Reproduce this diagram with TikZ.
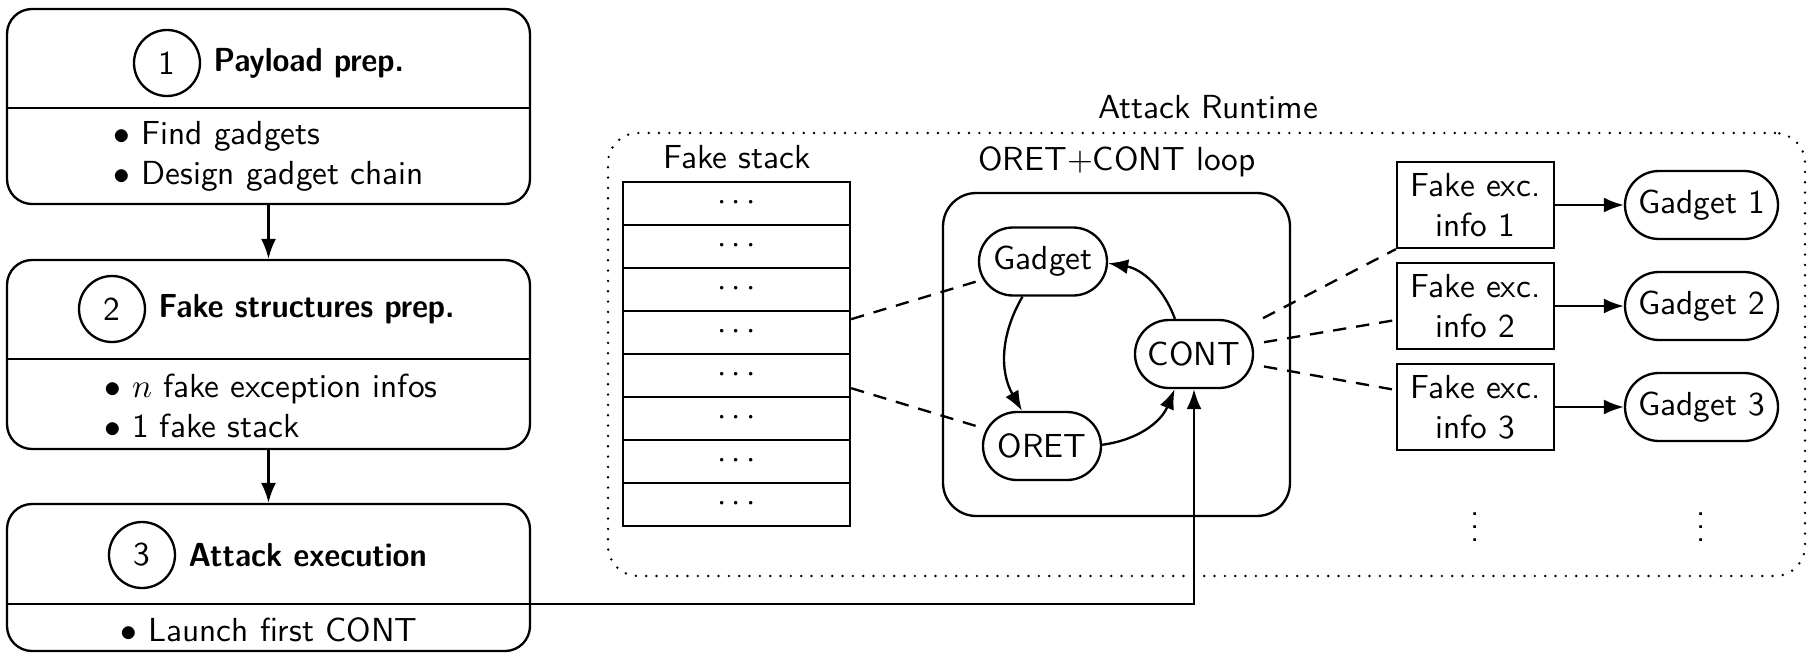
\documentclass[tikz,border=0pt]{standalone}
\usepackage{fontspec}
\usetikzlibrary{arrows.meta}
\newcommand{\narrowbf}[1]{\scalebox{0.92}[1]{\bfseries #1}}
\begin{document}
\begin{tikzpicture}[x=0.3pt,y=-0.3pt,
  every node/.style={font=\sffamily},
  lw/.style={line width=0.7pt},
  stepbox/.style={draw, lw, rounded corners=7.5pt, minimum width=156.9pt, inner sep=0pt},
  numcirc/.style={draw, lw, circle, minimum size=19.8pt, inner sep=0pt},
  steptitle/.style={anchor=west, inner sep=0pt},
  pill/.style={draw, lw, rounded corners=10.2pt, minimum height=20.4pt, inner sep=0pt},
  infobox/.style={draw, lw, minimum width=47.1pt, minimum height=25.8pt, inner sep=0pt, align=center},
  stackrow/.style={draw, lw, minimum width=68.1pt, minimum height=12.9pt, inner sep=0pt},
  arr/.style={lw, -{Latex[length=6pt,width=4.5pt]}},
  dashline/.style={lw, dash pattern=on 4pt off 3pt},
  dotline/.style={line width=0.8pt, line cap=round, dash pattern=on 0pt off 3.1pt},
]
\useasboundingbox (0,0) rectangle (1808,654);

% ---- left column ----
\node[stepbox, minimum height=58.5pt] (b1) at (268.5,106.5) {};
\node[stepbox, minimum height=56.7pt] (b2) at (268.5,354.5) {};
\node[stepbox, minimum height=44.1pt] (b3) at (268.5,577.5) {};
\coordinate (d1) at (0,108);
\coordinate (d2) at (0,359);
\coordinate (d3) at (0,604);
\draw[lw] (b1.west |- d1) -- (b1.east |- d1);
\draw[lw] (b2.west |- d2) -- (b2.east |- d2);
\draw[lw] (b3.west |- d3) -- (b3.east |- d3);

\node[numcirc] (c1) at (167,63) {1};
\node[steptitle] (t1) at (213,63) {\narrowbf{Payload prep.}};
\node[numcirc] (c2) at (112,309) {2};
\node[steptitle] (t2) at (158,309) {\narrowbf{Fake structures prep.}};
\node[numcirc] (c3) at (142,555) {3};
\node[steptitle] (t3) at (188,555) {\narrowbf{Attack execution}};

\node[align=left] (l1) at (269,156) {$\bullet$ Find gadgets\\$\bullet$ Design gadget chain};
\node[align=left] (l2) at (271,406) {$\bullet$ $n$ fake exception infos\\$\bullet$ 1 fake stack};
\node[align=left] (l3) at (269,630) {$\bullet$ Launch first CONT};

\draw[arr] (b1.south) -- (b2.north);
\draw[arr] (b2.south) -- (b3.north);

% ---- attack runtime ----
\node[draw, dotline, rounded corners=9pt, minimum width=359.1pt, minimum height=132.9pt] (rt) at (1206.5,354.5) {};
\node (rtlbl) at (1208,107) {Attack Runtime};

\node (stacklbl) at (737,157) {Fake stack};
\foreach \i in {1,...,8}
  \node[stackrow] (s\i) at (736.5,{182+43*(\i-0.5)}) {$\cdots$};

\node (looplbl) at (1117,162) {ORET+CONT loop};
\node[draw, lw, rounded corners=10pt, minimum width=104.1pt, minimum height=96.9pt] (loop) at (1116.5,354.5) {};
\node[pill, minimum width=38.4pt] (gad) at (1043,261.5) {Gadget};
\node[pill, minimum width=35.4pt] (oret) at (1042,446) {ORET};
\node[pill, minimum width=35.4pt] (cont) at (1194,354) {CONT};

\draw[arr] (gad) to[bend right=30] (oret);
\draw[arr] (oret) to[bend right=30] (cont);
\draw[arr] (cont) to[bend right=30] (gad);

\draw[dashline] ([yshift=4pt]s4.east) -- (gad);
\draw[dashline] ([yshift=-3.8pt]s5.east) -- (oret);

\foreach \i/\y in {1/205,2/306,3/407}{
  \node[infobox] (f\i) at (1475.5,\y) {Fake exc.\\info \i};
  \node[pill, minimum width=45.9pt] (g\i) at (1701.5,\y) {Gadget \i};
  \draw[arr] (f\i) -- (g\i);
}
\node (v1) at (1475.5,517) {$\vdots$};
\node (v2) at (1701.5,517) {$\vdots$};

\draw[dashline, shorten <=3pt] (cont) -- (f1.south west);
\draw[dashline, shorten <=3pt] (cont) -- ([yshift=-4.2pt]f2.west);
\draw[dashline, shorten <=3pt] (cont) -- ([yshift=5.1pt]f3.west);

\draw[arr] (b3.east |- d3) -| (cont.south);
\end{tikzpicture}
\end{document}
